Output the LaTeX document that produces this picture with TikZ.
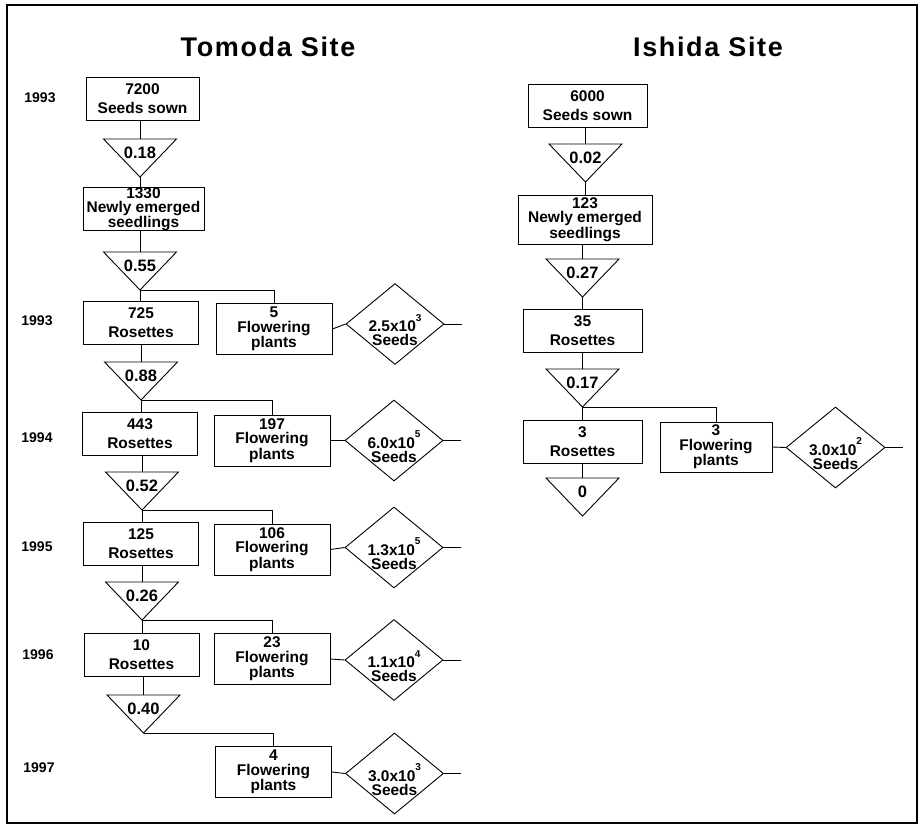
\documentclass[tikz,border=0pt]{standalone}
\usepackage{fontspec}
\setmainfont{Liberation Sans}
\usetikzlibrary{shapes.geometric}
\newcommand\sciexp[1]{\raisebox{1.3ex}{\fontsize{10}{10}\selectfont #1}}
\newcommand\mytri[4]{%
  \coordinate (#1) at (#2,#3);
  \coordinate (#1a) at (#2,#3+38);
  \draw[ln] (#2-36.5,#3) -- (#2+36.5,#3) -- (#1a) -- cycle;
  \node[trilab] (#1l) at (#2,#3+14) {#4};
}
\begin{document}
\begin{tikzpicture}[x=1pt,y=-1pt,
  ln/.style={line width=0.9pt},
  box/.style={draw,line width=0.9pt,inner sep=0pt,align=center,
    font=\bfseries\fontsize{15.5}{19}\selectfont},
  rbox/.style={box,minimum width=115,minimum height=43},
  fbox/.style={box,minimum width=116,minimum height=51,
    font=\bfseries\fontsize{15.5}{14.5}\selectfont},
  dia/.style={draw,diamond,line width=0.9pt,inner sep=0pt,minimum width=98,minimum height=81},
  dtext/.style={align=center,inner sep=0pt,font=\bfseries\fontsize{15.5}{14}\selectfont},
  trilab/.style={inner sep=0pt,font=\bfseries\fontsize{16.5}{16}\selectfont},
  yr/.style={inner sep=0pt,font=\bfseries\fontsize{14}{14}\selectfont},
  ttl/.style={inner sep=0pt,font=\bfseries\fontsize{27}{27}\selectfont\addfontfeature{LetterSpace=6}}]
\useasboundingbox (0,0) rectangle (921,827);
\draw[line width=1.4pt] (7,5) rectangle (917,823);

% titles
\node[ttl] (tt) at (268,47) {Tomoda Site};
\node[ttl] (it) at (708,47) {Ishida Site};

% years
\node[yr] (y1) at (40,98) {1993};
\node[yr] (y2) at (37,321) {1993};
\node[yr] (y3) at (37,438) {1994};
\node[yr] (y4) at (37,547) {1995};
\node[yr] (y5) at (38,655) {1996};
\node[yr] (y6) at (39,768) {1997};

% ---------- Tomoda ----------
\node[box,minimum width=113,minimum height=43] (b1) at (142.5,98.5) {7200\\Seeds sown};
\mytri{t1}{140}{139}{0.18}
\node[box,minimum width=121,minimum height=40,font=\bfseries\fontsize{15.5}{14}\selectfont] (b2) at (143.5,209) {1330\\Newly emerged\\seedlings};
\mytri{t2}{140}{252}{0.55}
\node[rbox] (r1) at (141,323) {725\\Rosettes};
\node[fbox] (f1) at (274,329) {5\\Flowering\\plants};
\node[dia] (d1) at (395,324) {};
\node[dtext] (dt1) at (395,330) {2.5x10\sciexp{3}\\Seeds};
\coordinate (e1) at (462,324);

\mytri{t3}{141}{362}{0.88}
\node[rbox] (r2) at (140,434) {443\\Rosettes};
\node[fbox] (f2) at (272,440.5) {197\\Flowering\\plants};
\node[dia] (d2) at (394,440.5) {};
\node[dtext] (dt2) at (394,446.5) {6.0x10\sciexp{5}\\Seeds};
\coordinate (e2) at (461,440.5);

\mytri{t4}{142}{472}{0.52}
\node[rbox] (r3) at (141,543.5) {125\\Rosettes};
\node[fbox] (f3) at (272,549.5) {106\\Flowering\\plants};
\node[dia] (d3) at (394,547.5) {};
\node[dtext] (dt3) at (394,553.5) {1.3x10\sciexp{5}\\Seeds};
\coordinate (e3) at (461,547.5);

\mytri{t5}{142}{582}{0.26}
\node[rbox] (r4) at (141.5,655) {10\\Rosettes};
\node[fbox] (f4) at (272,659) {23\\Flowering\\plants};
\node[dia] (d4) at (394,660) {};
\node[dtext] (dt4) at (394,666) {1.1x10\sciexp{4}\\Seeds};
\coordinate (e4) at (461,660);

\mytri{t6}{143.5}{695}{0.40}
\node[fbox] (f5) at (273.5,772) {4\\Flowering\\plants};
\node[dia] (d5) at (394.5,773.5) {};
\node[dtext] (dt5) at (394.5,779.5) {3.0x10\sciexp{3}\\Seeds};
\coordinate (e5) at (461,773.5);

\draw[ln] (b1.south -| t1) -- (t1);
\draw[ln] (t1a) -- (t1a |- b2.north);
\draw[ln] (b2.south -| t2) -- (t2);
\draw[ln] (t2a) -- (t2a |- r1.north);
\draw[ln] (t2a) -| (f1.north);
\draw[ln] (f1.east) -- (d1.west);
\draw[ln] (d1.east) -- (e1);
\draw[ln] (r1.south -| t3) -- (t3);
\draw[ln] (t3a) -- (t3a |- r2.north);
\draw[ln] (t3a) -| (f2.north);
\draw[ln] (f2.east) -- (d2.west);
\draw[ln] (d2.east) -- (e2);
\draw[ln] (r2.south -| t4) -- (t4);
\draw[ln] (t4a) -- (t4a |- r3.north);
\draw[ln] (t4a) -| (f3.north);
\draw[ln] (f3.east) -- (d3.west);
\draw[ln] (d3.east) -- (e3);
\draw[ln] (r3.south -| t5) -- (t5);
\draw[ln] (t5a) -- (t5a |- r4.north);
\draw[ln] (t5a) -| (f4.north);
\draw[ln] (f4.east) -- (d4.west);
\draw[ln] (d4.east) -- (e4);
\draw[ln] (r4.south -| t6) -- (t6);
\draw[ln] (t6a) -| (f5.north);
\draw[ln] (f5.east) -- (d5.west);
\draw[ln] (d5.east) -- (e5);

% ---------- Ishida ----------
\node[box,minimum width=119,minimum height=43] (ib1) at (587.5,105.5) {6000\\Seeds sown};
\mytri{it1}{585.5}{144}{0.02}
\node[box,minimum width=134,minimum height=49,font=\bfseries\fontsize{15.5}{14}\selectfont] (ib2) at (585,219.5) {123\\Newly emerged\\seedlings};
\mytri{it2}{582.5}{259}{0.27}
\node[rbox,minimum width=119] (ir1) at (582.5,330.5) {35\\Rosettes};
\mytri{it3}{582.5}{369}{0.17}
\node[rbox,minimum width=119] (ir2) at (582.5,441.5) {3\\Rosettes};
\node[fbox,minimum width=112,minimum height=50] (if1) at (716,447) {3\\Flowering\\plants};
\node[dia,minimum width=99] (id1) at (835.5,447.5) {};
\node[dtext] (idt1) at (835.5,453.5) {3.0x10\sciexp{2}\\Seeds};
\coordinate (ie1) at (903,447.5);
\mytri{it4}{582.5}{478}{0}

\draw[ln] (ib1.south -| it1) -- (it1);
\draw[ln] (it1a) -- (it1a |- ib2.north);
\draw[ln] (ib2.south -| it2) -- (it2);
\draw[ln] (it2a) -- (it2a |- ir1.north);
\draw[ln] (ir1.south -| it3) -- (it3);
\draw[ln] (it3a) -- (it3a |- ir2.north);
\draw[ln] (it3a) -| (if1.north);
\draw[ln] (if1.east) -- (id1.west);
\draw[ln] (id1.east) -- (ie1);
\draw[ln] (ir2.south -| it4) -- (it4);
\end{tikzpicture}
\end{document}
